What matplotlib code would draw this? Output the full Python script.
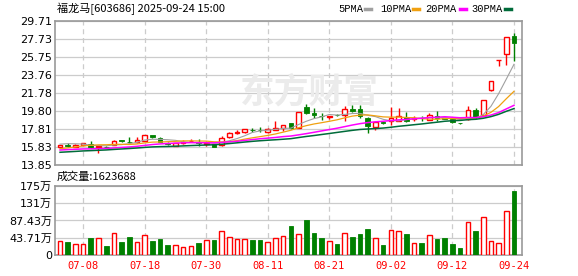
import numpy as np
import pandas as pd
import matplotlib
matplotlib.use('Agg')
import matplotlib.pyplot as plt
from matplotlib.lines import Line2D

plt.rcParams['font.family'] = ['DejaVu Sans', 'Noto Sans CJK SC']
plt.rcParams['axes.unicode_minus'] = False

# 交易日 2025-07-03 ~ 2025-09-24
dates = pd.bdate_range('2025-07-03', '2025-09-24')
tick_labels = ['07-08', '07-18', '07-30', '08-11', '08-21', '09-02', '09-12', '09-24']

opens = [15.87, 16.00, 15.88, 16.05, 16.16, 15.82, 15.88, 16.05, 16.55, 16.40,
         16.35, 16.50, 17.12, 16.85, 16.30, 15.98, 16.30, 16.45, 16.35, 16.20,
         16.12, 16.00, 16.88, 17.42, 17.45, 17.75, 17.75, 17.45, 17.75, 17.96,
         18.44, 17.96, 20.25, 19.55, 19.30, 19.10, 19.38, 19.36, 19.98, 19.98,
         19.05, 18.00, 18.55, 18.72, 18.75, 19.15, 18.88, 19.08, 18.85, 19.20,
         19.02, 18.92, 18.48, 18.90, 19.95, 19.36, 22.12, 25.41, 26.04, 28.05]
highs = [16.10, 16.25, 16.20, 16.32, 16.50, 15.95, 15.95, 16.60, 16.65, 16.95,
         16.90, 17.20, 17.20, 16.90, 16.35, 16.30, 16.55, 16.70, 16.70, 16.45,
         16.20, 17.00, 17.45, 17.65, 17.80, 17.95, 18.05, 17.88, 18.70, 18.30,
         18.50, 19.70, 20.57, 20.08, 19.60, 19.28, 19.45, 20.35, 20.42, 20.50,
         19.10, 18.65, 18.75, 20.20, 20.15, 19.65, 19.20, 19.30, 19.60, 19.75,
         19.10, 18.98, 18.52, 20.30, 20.15, 21.00, 23.10, 25.41, 27.95, 28.40]
lows = [15.85, 15.85, 15.80, 16.00, 15.75, 15.20, 15.72, 16.00, 16.40, 16.30,
        16.30, 16.45, 16.85, 16.35, 16.05, 15.95, 16.20, 16.40, 15.95, 15.95,
        15.80, 15.92, 16.80, 17.30, 17.40, 17.45, 17.45, 17.40, 17.70, 17.60,
        17.85, 17.95, 19.43, 19.00, 18.80, 18.95, 19.25, 18.75, 19.72, 19.05,
        17.35, 17.65, 18.38, 18.30, 18.70, 18.55, 18.75, 18.65, 18.80, 18.70,
        18.90, 18.48, 18.40, 18.85, 18.95, 19.30, 22.00, 24.80, 24.85, 25.25]
closes = [16.05, 15.93, 16.05, 16.27, 15.80, 15.90, 15.80, 16.50, 16.45, 16.35,
          16.60, 17.10, 16.92, 16.42, 16.12, 16.27, 16.35, 16.50, 16.30, 16.25,
          15.85, 16.85, 17.35, 17.50, 17.78, 17.70, 17.68, 17.82, 17.90, 18.26,
          17.90, 19.65, 19.62, 19.36, 19.20, 19.24, 19.32, 19.98, 19.85, 19.30,
          18.15, 18.60, 18.50, 19.05, 19.30, 18.75, 19.05, 19.00, 19.35, 19.08,
          18.95, 18.55, 18.45, 19.90, 19.09, 21.00, 23.10, 25.41, 27.95, 27.25]
# 成交量（万）
volumes = [34.7, 33.0, 27.0, 27.0, 43.0, 42.0, 23.0, 55.0, 33.0, 45.6,
           33.0, 50.0, 36.0, 40.5, 25.4, 24.6, 21.0, 22.3, 31.0, 37.5,
           38.0, 60.4, 45.0, 40.6, 40.6, 38.0, 38.0, 32.5, 42.3, 47.4,
           73.5, 52.5, 88.8, 55.8, 43.0, 35.0, 28.0, 55.0, 45.6, 53.3,
           66.0, 42.3, 25.4, 63.0, 60.4, 53.3, 29.7, 30.4, 50.0, 40.6,
           43.0, 28.0, 17.8, 83.7, 61.6, 95.6, 35.5, 30.4, 111.6, 162.37]
# 区间之前的收盘价，用于计算均线起点
pre_close = [14.50, 14.60, 14.70, 14.80, 14.75, 14.70, 14.80, 14.90, 14.85, 14.90,
             15.10, 15.30, 15.50, 15.60, 15.40, 15.30, 15.45, 15.35, 15.30, 15.20,
             15.10, 15.00, 15.10, 15.20, 15.35, 15.70, 16.10, 16.40, 16.50]

price_ticks = [13.85, 15.83, 17.81, 19.80, 21.78, 23.76, 25.75, 27.73, 29.71]
vol_ticks = [0, 43.71, 87.43, 131.14, 174.86]
vol_tick_labels = ['0', '43.71万', '87.43万', '131万', '175万']

ma_list = [(5, '5PMA', '#a0a0a0', 0.8), (10, '10PMA', '#f0a010', 0.9),
           (20, '20PMA', '#ff00ff', 1.1), (30, '30PMA', '#006b3a', 1.1)]

RED = '#ff0000'
GREEN = '#008000'
GRID = '#cccccc'
SPINE = '#999999'

o = np.array(opens); h = np.array(highs); l = np.array(lows); c = np.array(closes)
v = np.array(volumes)
x = np.arange(len(c))
up = c >= o
tick_idx = [list(dates.strftime('%m-%d')).index(t) for t in tick_labels]

fig = plt.figure(figsize=(5.78, 2.76), dpi=100)
ax = fig.add_axes([0.0952, 0.4022, 0.8079, 0.5217])
axv = fig.add_axes([0.0952, 0.0761, 0.8079, 0.2500])

for a in (ax, axv):
    a.set_xlim(-0.65, 60.04)
    for s in a.spines.values():
        s.set_color(SPINE)
        s.set_linewidth(1.2)
    for t in tick_idx:
        a.axvline(t, color=GRID, lw=0.9, dashes=(4, 3), zorder=0)

# 价格面板
ax.set_ylim(13.85, 29.71)
ax.set_yticks(price_ticks)
ax.set_yticklabels([f'{p:.2f}' for p in price_ticks])
ax.set_xticks([])
ax.tick_params(axis='y', length=0, pad=2, labelsize=8)
for p in price_ticks:
    ax.axhline(p, color=GRID, lw=0.9, zorder=0)

ax.text(0.545, 0.505, '东方财富', transform=ax.transAxes, ha='center', va='center',
        fontsize=25, fontweight='bold', color='#ebebeb', family='Noto Sans CJK SC', zorder=0)

w = 0.6
body_lo = np.minimum(o, c)
body_hi = np.maximum(o, c)
col = np.where(up, RED, GREEN)
ax.vlines(x, l, body_lo, colors=col, lw=1.0, zorder=2)
ax.vlines(x, body_hi, h, colors=col, lw=1.0, zorder=2)
height = np.maximum(body_hi - body_lo, 0.02)
ax.bar(x[up], height[up], w, bottom=body_lo[up], facecolor='white', edgecolor=RED, lw=1.0, zorder=3)
ax.bar(x[~up], height[~up], w, bottom=body_lo[~up], facecolor=GREEN, edgecolor=GREEN, lw=0.6, zorder=3)

full = pd.Series(pre_close + closes)
for n, name, color, lw in ma_list:
    ma = full.rolling(n).mean().iloc[len(pre_close):].values
    ax.plot(x, ma, color=color, lw=lw, zorder=4)

# 成交量面板
axv.set_ylim(0, 174.86)
axv.set_yticks(vol_ticks)
axv.set_yticklabels(vol_tick_labels)
axv.tick_params(axis='y', length=0, pad=2, labelsize=8)
for t in vol_ticks:
    axv.axhline(t, color=GRID, lw=0.9, zorder=0)
axv.bar(x[up], v[up], w, facecolor='white', edgecolor=RED, lw=1.0, zorder=3)
axv.bar(x[~up], v[~up], w, facecolor=GREEN, edgecolor=GREEN, lw=0.6, zorder=3)
axv.set_xticks(tick_idx)
axv.set_xticklabels(tick_labels, family='DejaVu Sans Mono')
axv.tick_params(axis='x', length=0, pad=4, labelsize=7.5, labelcolor=RED)

# 标题与图例
fig.text(0.0986, 0.967, '福龙马[603686] 2025-09-24 15:00', fontsize=8, va='center',
         family=['Noto Sans CJK SC', 'DejaVu Sans'])
fig.text(0.0986, 0.359, '成交量:1623688', fontsize=8, va='center',
         family=['Noto Sans CJK SC', 'DejaVu Sans'])

leg_x = [338, 380, 425, 471]
dash_x = [365, 413, 460, 505]
for (n, name, color, lw), tx, dx in zip(ma_list, leg_x, dash_x):
    fig.text(tx / 578, 1 - 8.5 / 276, name, fontsize=7.5, va='center', family='Liberation Mono')
    fig.add_artist(Line2D([dx / 578, (dx + 6) / 578], [1 - 8.5 / 276] * 2,
                          transform=fig.transFigure, color=color, lw=2.5))

fig.savefig('out.png', dpi=100)
